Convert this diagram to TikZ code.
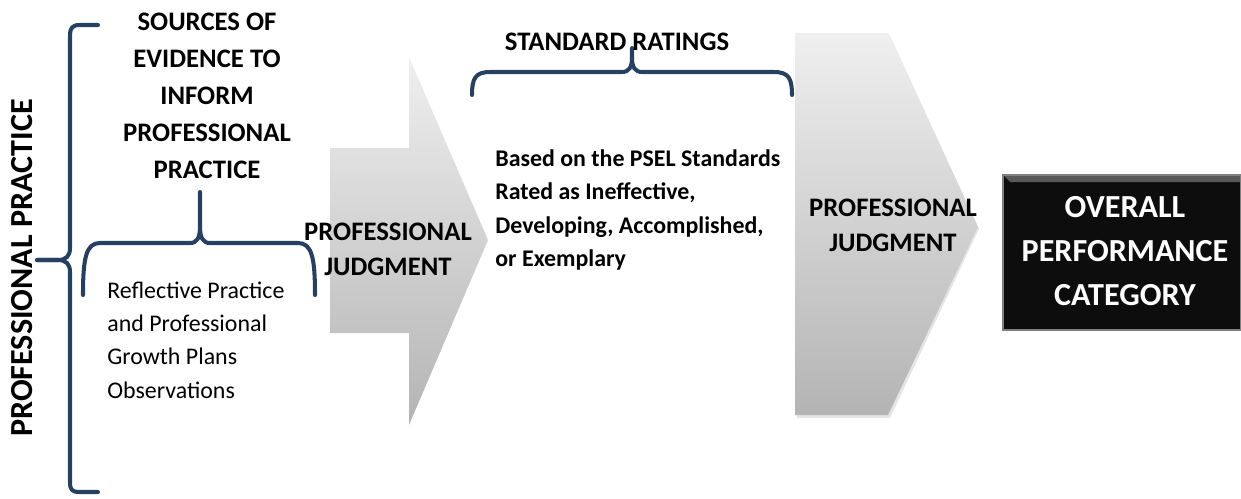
\documentclass[tikz,border=0pt]{standalone}
\usepackage{fontspec}
\setmainfont{Carlito}
\definecolor{bracenavy}{RGB}{38,64,97}
\definecolor{arrowtop}{RGB}{239,239,239}
\definecolor{arrowbot}{RGB}{180,180,180}
\tikzset{
  bracepath/.style={draw=bracenavy, line width=2.3pt, line cap=round, line join=round},
  headtext/.style={font=\fontsize{15.2}{21}\selectfont\bfseries, align=center, inner sep=0pt},
  bodytext/.style={font=\fontsize{13.6}{19}\selectfont, align=left, inner sep=0pt, anchor=west},
  boldbody/.style={font=\fontsize{13.6}{19}\selectfont\bfseries, align=left, inner sep=0pt, anchor=west},
  judgtext/.style={font=\fontsize{15.2}{20}\selectfont\bfseries, align=center, inner sep=0pt},
  bigtext/.style={font=\fontsize{18.3}{25}\selectfont\bfseries, align=center, inner sep=0pt}
}
\begin{document}
\begin{tikzpicture}[x=0.02cm, y=-0.02cm]
  \useasboundingbox (0,0) rectangle (1241,498);
  \shade[top color=arrowtop, bottom color=arrowbot]
    (330,148) -- (409,148) -- (409,57) -- (488,240) -- (409,425) -- (409,333) -- (330,333) -- cycle;
  \fill[black, opacity=0.10]
    (797,36) -- (890,36) -- (979,229) -- (890,418) -- (797,418) -- cycle;
  \shade[top color=arrowtop, bottom color=arrowbot]
    (795,33) -- (888,33) -- (978,227) -- (888,415) -- (795,415) -- cycle;
  \fill[black!95] (1003,175) rectangle (1241,330);
  \fill[black!65] (1003,175) -- (1241,175) -- (1241,182) -- (1010,182) -- cycle;
  \draw[black!50, line width=0.6pt] (1003,175) rectangle (1241,330);
  \begin{scope}[bracepath]
    \draw (98,25) -- (80,25) .. controls (72,25) and (70,28) .. (70,36) -- (70,248)
      .. controls (70,256) and (66,260) .. (58,260) -- (37,260);
    \draw (37,260) -- (58,260) .. controls (66,260) and (70,264) .. (70,272) -- (70,482)
      .. controls (70,490) and (72,492) .. (80,492) -- (98,492);
    \draw (83,295) .. controls (83,258) and (86,243) .. (100,243) -- (190,243)
      .. controls (197,243) and (200,238) .. (200,226) -- (200,192);
    \draw (200,226) .. controls (200,238) and (203,243) .. (210,243) -- (298,243)
      .. controls (312,243) and (315,258) .. (315,295);
    \draw (472,95) .. controls (472,79) and (475,72) .. (490,72) -- (622,72)
      .. controls (629,72) and (632,67) .. (632,58) -- (632,48);
    \draw (632,58) .. controls (632,67) and (635,72) .. (642,72) -- (774,72)
      .. controls (789,72) and (792,79) .. (792,95);
  \end{scope}
  \node[bigtext, rotate=90] (practice) at (22,268) {PROFESSIONAL PRACTICE};
  \node[headtext] (sources) at (207,96) {SOURCES OF\\EVIDENCE TO\\INFORM\\PROFESSIONAL\\PRACTICE};
  \node[bodytext] (reflect) at (107,340) {Reflective Practice\\and Professional\\Growth Plans\\Observations};
  \node[judgtext] (judgone) at (388,249) {PROFESSIONAL\\JUDGMENT};
  \node[headtext] (ratings) at (617,42) {STANDARD RATINGS};
  \node[boldbody] (based) at (495,210) {Based on the PSEL Standards\\Rated as Ineffective,\\Developing, Accomplished,\\or Exemplary};
  \node[judgtext] (judgtwo) at (893,225) {PROFESSIONAL\\JUDGMENT};
  \node[bigtext, text=white] (overall) at (1125,251) {OVERALL\\PERFORMANCE\\CATEGORY};
\end{tikzpicture}
\end{document}
